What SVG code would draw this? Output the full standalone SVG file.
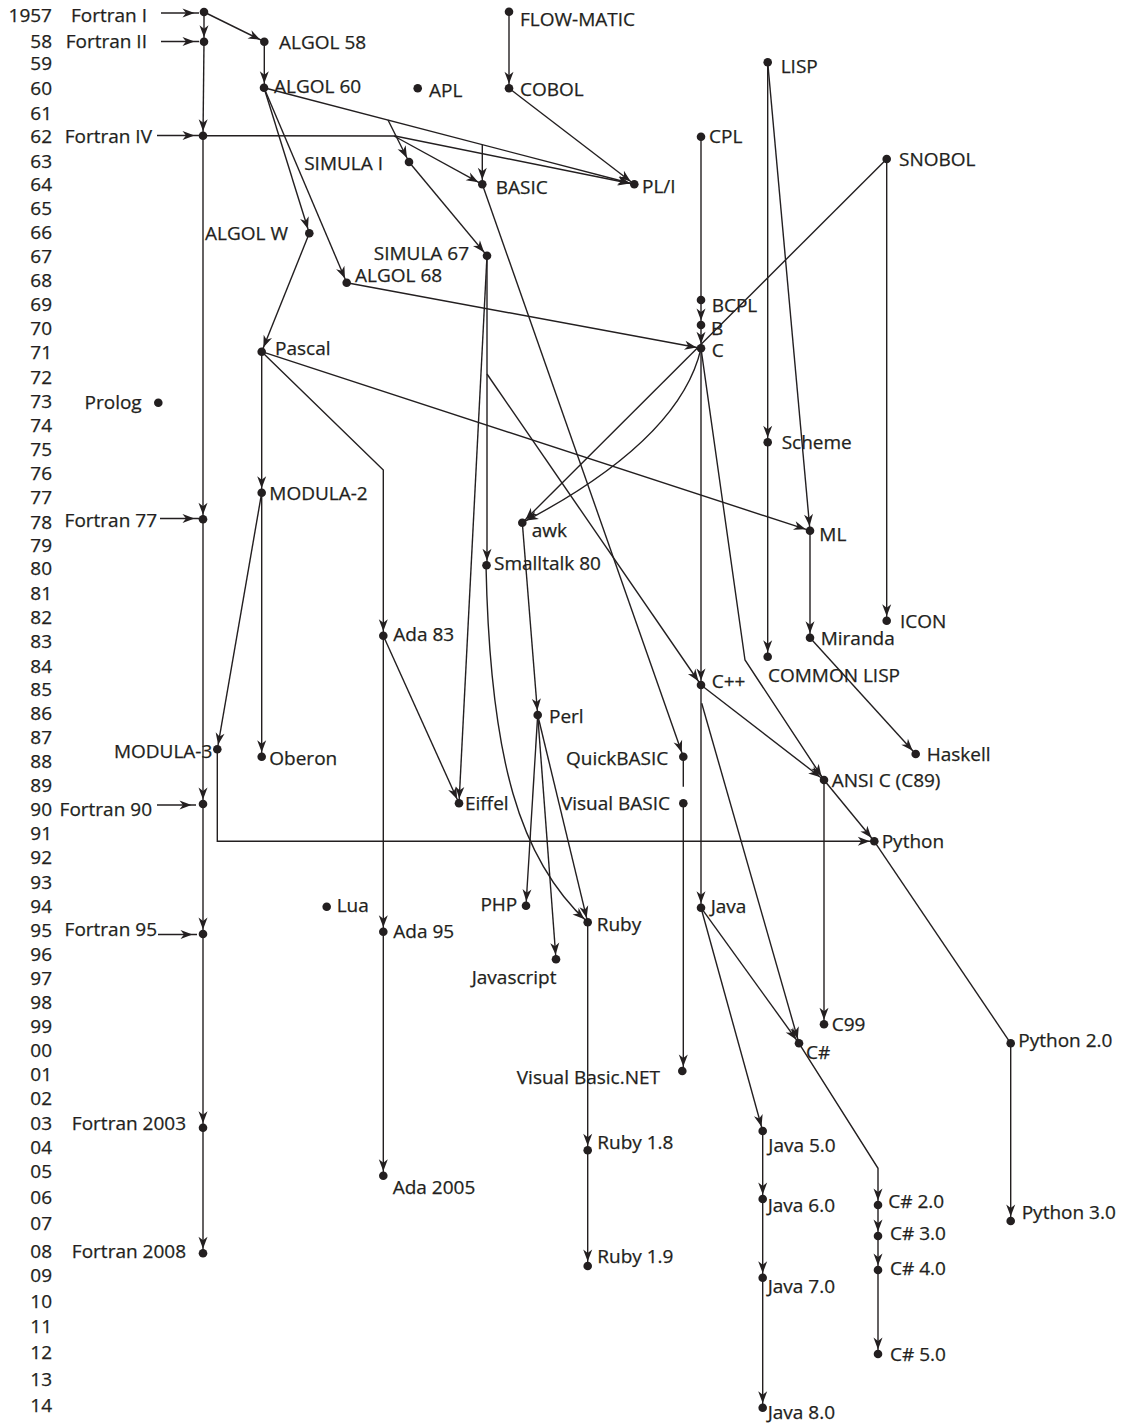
<svg xmlns="http://www.w3.org/2000/svg" width="1139" height="1425" viewBox="0 0 1139 1425">
<style>
text{font-family:"Open Sans","Liberation Sans",sans-serif;font-size:19px;fill:#231f20;stroke:#231f20;stroke-width:0.25}
.y text{text-anchor:end}
.r{text-anchor:end}
circle{fill:#231f20}
#edges path{fill:none;stroke:#231f20;stroke-width:1.4}
#edges .a{marker-end:url(#arr)}
</style>
<defs>
<marker id="arr" markerUnits="userSpaceOnUse" orient="auto" refX="4.5" refY="0" markerWidth="14" markerHeight="10" overflow="visible">
<path d="M0,0 L-12,-4.5 L-8.5,0 L-12,4.5 Z" fill="#231f20"/>
</marker>
</defs>
<rect width="1139" height="1425" fill="#fff"/>
<g class="y" id="years">
<text x="52" y="22">1957</text><text x="52" y="47.5">58</text><text x="52" y="70">59</text><text x="52" y="94.5">60</text><text x="52" y="119.5">61</text><text x="52" y="142.5">62</text><text x="52" y="168">63</text><text x="52" y="191">64</text><text x="52" y="215">65</text><text x="52" y="239">66</text><text x="52" y="262.5">67</text><text x="52" y="287">68</text><text x="52" y="311">69</text><text x="52" y="335">70</text><text x="52" y="358.5">71</text><text x="52" y="383.5">72</text><text x="52" y="407.5">73</text><text x="52" y="432">74</text><text x="52" y="456">75</text><text x="52" y="480">76</text><text x="52" y="503.5">77</text><text x="52" y="528.5">78</text><text x="52" y="552">79</text><text x="52" y="575">80</text><text x="52" y="600">81</text><text x="52" y="623.5">82</text><text x="52" y="648">83</text><text x="52" y="672.5">84</text><text x="52" y="696">85</text><text x="52" y="720">86</text><text x="52" y="744">87</text><text x="52" y="768">88</text><text x="52" y="792">89</text><text x="52" y="816">90</text><text x="52" y="839.5">91</text><text x="52" y="863.5">92</text><text x="52" y="888.5">93</text><text x="52" y="912.5">94</text><text x="52" y="937">95</text><text x="52" y="961">96</text><text x="52" y="985">97</text><text x="52" y="1009">98</text><text x="52" y="1033">99</text><text x="52" y="1057">00</text><text x="52" y="1081">01</text><text x="52" y="1104.5">02</text><text x="52" y="1130">03</text><text x="52" y="1153.5">04</text><text x="52" y="1178">05</text><text x="52" y="1204">06</text><text x="52" y="1230">07</text><text x="52" y="1258">08</text><text x="52" y="1282">09</text><text x="52" y="1307.5">10</text><text x="52" y="1333">11</text><text x="52" y="1359">12</text><text x="52" y="1386">13</text><text x="52" y="1412">14</text>
</g>
<g id="edges">
<path class="a" d="M161,13 H199"/>
<path class="a" d="M161,41.5 H199"/>
<path class="a" d="M157,135.5 H199"/>
<path class="a" d="M160,518.5 H199"/>
<path class="a" d="M157,805 H196"/>
<path class="a" d="M158,934.5 H197"/>
<path class="a" d="M204,12 V41.7"/>
<path class="a" d="M204,41.7 L203,135.7"/>
<path class="a" d="M203,135.7 V519.3"/>
<path class="a" d="M203,519.3 V804"/>
<path class="a" d="M203,804 V934"/>
<path class="a" d="M203,934 V1127.7"/>
<path class="a" d="M203,1127.7 V1253.3"/>
<path class="a" d="M204,12 L264.3,41.7"/>
<path class="a" d="M264.3,41.7 V87.7"/>
<path class="a" d="M509,11.7 V88.3"/>
<path class="a" d="M509,88.3 L634.3,184.3"/>
<path class="a" d="M264,87.7 L634.3,184.3"/>
<path class="a" d="M203,135.7 L395,136 L634.3,184.3"/>
<path class="a" d="M394,136 L482.3,184.3"/>
<path class="a" d="M482.3,144.7 V184.3"/>
<path class="a" d="M388,120 L409,162"/>
<path class="a" d="M264,87.7 L309.3,233.3"/>
<path class="a" d="M264,87.7 L346.7,282.7"/>
<path class="a" d="M409,162 L487,255.7"/>
<path class="a" d="M309.3,233.3 L261.7,351.7"/>
<path class="a" d="M346.7,282.7 L701,348.3"/>
<path d="M701,136.7 V300"/>
<path class="a" d="M701,300 V325"/>
<path class="a" d="M701,325 V348.3"/>
<path class="a" d="M886.7,159 L522.3,522.7"/>
<path class="a" d="M701,348.3 Q680,440 522.3,522.7"/>
<path class="a" d="M767.7,62.3 V442.3"/>
<path class="a" d="M767.7,442.3 V656.7"/>
<path class="a" d="M767.7,62.3 L810,530.7"/>
<path class="a" d="M261.7,351.7 L810,530.7"/>
<path class="a" d="M810,530.7 V637.7"/>
<path class="a" d="M886.7,159 V620.7"/>
<path class="a" d="M810,637.7 L915.7,754"/>
<path class="a" d="M261.7,351.7 V492.7"/>
<path class="a" d="M261.7,351.7 L383.3,470 V635.7"/>
<path class="a" d="M261.7,492.7 V756.7"/>
<path class="a" d="M261.7,492.7 L217.3,749.3"/>
<path class="a" d="M217.3,749.3 V841.3 H874.3"/>
<path class="a" d="M487,255.7 V565.3"/>
<path class="a" d="M487,374 L701,685"/>
<path class="a" d="M487,255.7 L459,803.3"/>
<path class="a" d="M383.3,635.7 L459,803.3"/>
<path class="a" d="M383.3,635.7 V931.7"/>
<path class="a" d="M383.3,931.7 V1175.7"/>
<path class="a" d="M701,348.3 V685"/>
<path class="a" d="M701,348.3 L745,660 L824,780"/>
<path class="a" d="M701,685 L824,780"/>
<path class="a" d="M824,780 L874.3,841.3"/>
<path class="a" d="M824,780 V1024.3"/>
<path class="a" d="M701,685 V907.7"/>
<path class="a" d="M701.7,703.3 L799,1043.3"/>
<path class="a" d="M701,907.7 L799,1043.3"/>
<path class="a" d="M701,907.7 L762.7,1131"/>
<path class="a" d="M799,1043.3 L878,1168.3 V1205"/>
<path class="a" d="M878,1205 V1236"/>
<path class="a" d="M878,1236 V1270"/>
<path class="a" d="M878,1270 V1354"/>
<path class="a" d="M762.7,1131 V1199"/>
<path class="a" d="M762.7,1199 V1277.7"/>
<path class="a" d="M762.7,1277.7 V1407.7"/>
<path d="M874.3,841.3 L1010.7,1043.3"/>
<path class="a" d="M1010.7,1043.3 V1221"/>
<path class="a" d="M522.3,522.7 L537.7,715"/>
<path class="a" d="M537.7,715 L526,905.7"/>
<path class="a" d="M537.7,715 L556,959.3"/>
<path class="a" d="M537.7,715 L587.7,922.3"/>
<path class="a" d="M486,565.3 C490,760 520,860 587.7,922.3"/>
<path class="a" d="M482.3,184.3 L683.3,756.7"/>
<path d="M683.3,756.7 V786.7"/>
<path class="a" d="M683.3,803.3 V1071"/>
<path class="a" d="M587.7,922.3 V1150.3"/>
<path class="a" d="M587.7,1150.3 V1266"/>
</g>
<g id="fortran-i"><circle cx="204" cy="12" r="4.3"/><text class="r" x="147" y="22">Fortran I</text></g>
<g id="fortran-ii"><circle cx="204" cy="41.7" r="4.3"/><text class="r" x="147" y="47.5">Fortran II</text></g>
<g id="fortran-iv"><circle cx="203" cy="135.7" r="4.3"/><text class="r" x="152" y="143">Fortran IV</text></g>
<g id="fortran-77"><circle cx="203" cy="519.3" r="4.3"/><text class="r" x="157" y="527">Fortran 77</text></g>
<g id="fortran-90"><circle cx="203" cy="804" r="4.3"/><text class="r" x="152" y="816">Fortran 90</text></g>
<g id="fortran-95"><circle cx="203" cy="934" r="4.3"/><text class="r" x="157" y="936">Fortran 95</text></g>
<g id="fortran-2003"><circle cx="203" cy="1127.7" r="4.3"/><text class="r" x="186" y="1130">Fortran 2003</text></g>
<g id="fortran-2008"><circle cx="203" cy="1253.3" r="4.3"/><text class="r" x="186" y="1258">Fortran 2008</text></g>
<g id="algol-58"><circle cx="264.3" cy="41.7" r="4.3"/><text x="279" y="49">ALGOL 58</text></g>
<g id="algol-60"><circle cx="264" cy="87.7" r="4.3"/><text x="274" y="93">ALGOL 60</text></g>
<g id="apl"><circle cx="417.7" cy="88.3" r="4.3"/><text x="429" y="97">APL</text></g>
<g id="flow-matic"><circle cx="509" cy="11.7" r="4.3"/><text x="520" y="26">FLOW-MATIC</text></g>
<g id="cobol"><circle cx="509" cy="88.3" r="4.3"/><text x="520" y="96">COBOL</text></g>
<g id="pl-i"><circle cx="634.3" cy="184.3" r="4.3"/><text x="642" y="193">PL/I</text></g>
<g id="basic"><circle cx="482.3" cy="184.3" r="4.3"/><text x="495.7" y="194">BASIC</text></g>
<g id="simula-i"><circle cx="409" cy="162" r="4.3"/><text class="r" x="383" y="170">SIMULA I</text></g>
<g id="simula-67"><circle cx="487" cy="255.7" r="4.3"/><text class="r" x="469" y="260">SIMULA 67</text></g>
<g id="algol-w"><circle cx="309.3" cy="233.3" r="4.3"/><text class="r" x="288" y="240">ALGOL W</text></g>
<g id="algol-68"><circle cx="346.7" cy="282.7" r="4.3"/><text x="355" y="282">ALGOL 68</text></g>
<g id="cpl"><circle cx="701" cy="136.7" r="4.3"/><text x="709" y="143">CPL</text></g>
<g id="lisp"><circle cx="767.7" cy="62.3" r="4.3"/><text x="780.7" y="73">LISP</text></g>
<g id="snobol"><circle cx="886.7" cy="159" r="4.3"/><text x="899" y="166">SNOBOL</text></g>
<g id="bcpl"><circle cx="701" cy="300" r="4.3"/><text x="711.7" y="312">BCPL</text></g>
<g id="b"><circle cx="701" cy="325" r="4.3"/><text x="711" y="335">B</text></g>
<g id="c"><circle cx="701" cy="348.3" r="4.3"/><text x="711.7" y="357">C</text></g>
<g id="pascal"><circle cx="261.7" cy="351.7" r="4.3"/><text x="275" y="355">Pascal</text></g>
<g id="prolog"><circle cx="158.3" cy="402.7" r="4.3"/><text class="r" x="141.7" y="409">Prolog</text></g>
<g id="scheme"><circle cx="767.7" cy="442.3" r="4.3"/><text x="781.7" y="449">Scheme</text></g>
<g id="modula-2"><circle cx="261.7" cy="492.7" r="4.3"/><text x="269.3" y="500">MODULA-2</text></g>
<g id="awk"><circle cx="522.3" cy="522.7" r="4.3"/><text x="531.7" y="537">awk</text></g>
<g id="ml"><circle cx="810" cy="530.7" r="4.3"/><text x="819.3" y="541">ML</text></g>
<g id="smalltalk-80"><circle cx="486.5" cy="565.3" r="4.3"/><text x="494" y="570">Smalltalk 80</text></g>
<g id="icon"><circle cx="886.7" cy="620.7" r="4.3"/><text x="900" y="628">ICON</text></g>
<g id="ada-83"><circle cx="383.3" cy="635.7" r="4.3"/><text x="393.3" y="641">Ada 83</text></g>
<g id="miranda"><circle cx="810" cy="637.7" r="4.3"/><text x="820.7" y="645">Miranda</text></g>
<g id="common-lisp"><circle cx="767.7" cy="656.7" r="4.3"/><text x="768" y="682">COMMON LISP</text></g>
<g id="cpp"><circle cx="701" cy="685" r="4.3"/><text x="711.7" y="688">C++</text></g>
<g id="perl"><circle cx="537.7" cy="715" r="4.3"/><text x="549" y="723">Perl</text></g>
<g id="modula-3"><circle cx="217.3" cy="749.3" r="4.3"/><text class="r" x="212.3" y="758">MODULA-3</text></g>
<g id="oberon"><circle cx="261.7" cy="756.7" r="4.3"/><text x="269.3" y="765">Oberon</text></g>
<g id="haskell"><circle cx="915.7" cy="754" r="4.3"/><text x="926.7" y="761">Haskell</text></g>
<g id="quickbasic"><circle cx="683.3" cy="756.7" r="4.3"/><text class="r" x="668.3" y="765">QuickBASIC</text></g>
<g id="ansi-c"><circle cx="824" cy="780" r="4.3"/><text x="831.7" y="787">ANSI C (C89)</text></g>
<g id="eiffel"><circle cx="459" cy="803.3" r="4.3"/><text x="465" y="810">Eiffel</text></g>
<g id="visual-basic"><circle cx="683.3" cy="803.3" r="4.3"/><text class="r" x="670" y="810">Visual BASIC</text></g>
<g id="python"><circle cx="874.3" cy="841.3" r="4.3"/><text x="881.7" y="848">Python</text></g>
<g id="lua"><circle cx="326.7" cy="906.7" r="4.3"/><text x="336.7" y="912">Lua</text></g>
<g id="php"><circle cx="526" cy="905.7" r="4.3"/><text class="r" x="517.3" y="911">PHP</text></g>
<g id="java"><circle cx="701" cy="907.7" r="4.3"/><text x="710.7" y="913">Java</text></g>
<g id="ruby"><circle cx="587.7" cy="922.3" r="4.3"/><text x="596.7" y="931">Ruby</text></g>
<g id="ada-95"><circle cx="383.3" cy="931.7" r="4.3"/><text x="393.3" y="938">Ada 95</text></g>
<g id="javascript"><circle cx="556" cy="959.3" r="4.3"/><text x="471.7" y="984">Javascript</text></g>
<g id="c99"><circle cx="824" cy="1024.3" r="4.3"/><text x="831.7" y="1031">C99</text></g>
<g id="csharp"><circle cx="799" cy="1043.3" r="4.3"/><text x="806" y="1059">C#</text></g>
<g id="python-2"><circle cx="1010.7" cy="1043.3" r="4.3"/><text x="1018.3" y="1047">Python 2.0</text></g>
<g id="vb-net"><circle cx="682.3" cy="1071" r="4.3"/><text class="r" x="660" y="1084">Visual Basic.NET</text></g>
<g id="java-5"><circle cx="762.7" cy="1131" r="4.3"/><text x="768.3" y="1152">Java 5.0</text></g>
<g id="ruby-1-8"><circle cx="587.7" cy="1150.3" r="4.3"/><text x="597.3" y="1149">Ruby 1.8</text></g>
<g id="ada-2005"><circle cx="383.3" cy="1175.7" r="4.3"/><text x="392.7" y="1194">Ada 2005</text></g>
<g id="csharp-2"><circle cx="878" cy="1205" r="4.3"/><text x="888.3" y="1208">C# 2.0</text></g>
<g id="java-6"><circle cx="762.7" cy="1199" r="4.3"/><text x="767.7" y="1212">Java 6.0</text></g>
<g id="python-3"><circle cx="1010.7" cy="1221" r="4.3"/><text x="1021.7" y="1219">Python 3.0</text></g>
<g id="csharp-3"><circle cx="878" cy="1236" r="4.3"/><text x="890" y="1240">C# 3.0</text></g>
<g id="ruby-1-9"><circle cx="587.7" cy="1266" r="4.3"/><text x="597.3" y="1263">Ruby 1.9</text></g>
<g id="csharp-4"><circle cx="878" cy="1270" r="4.3"/><text x="890" y="1275">C# 4.0</text></g>
<g id="java-7"><circle cx="762.7" cy="1277.7" r="4.3"/><text x="767.7" y="1293">Java 7.0</text></g>
<g id="csharp-5"><circle cx="878" cy="1354" r="4.3"/><text x="890" y="1361">C# 5.0</text></g>
<g id="java-8"><circle cx="762.7" cy="1407.7" r="4.3"/><text x="767.7" y="1419">Java 8.0</text></g>
</svg>
